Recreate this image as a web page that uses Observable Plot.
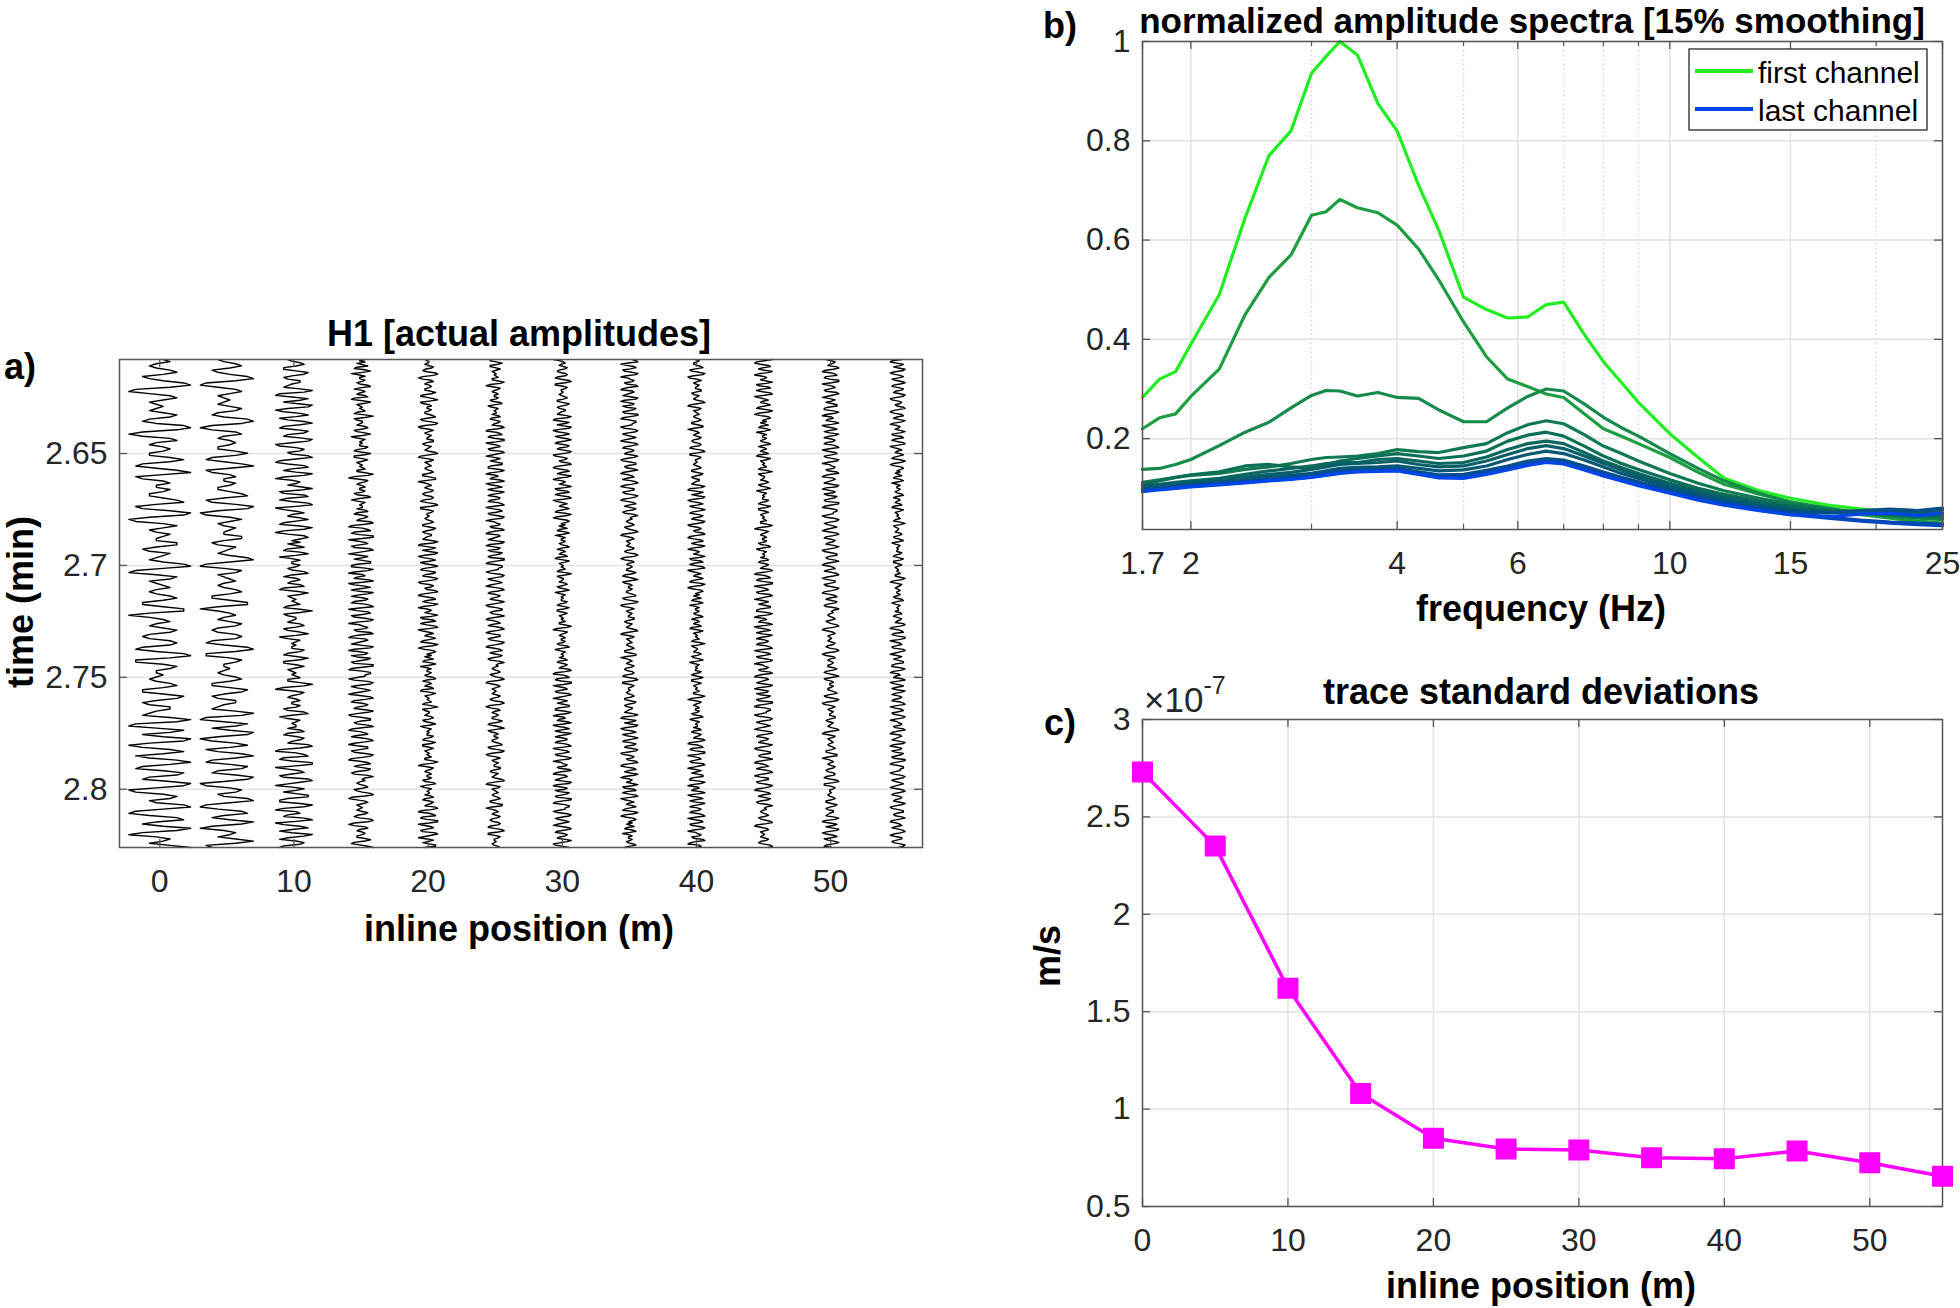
<!DOCTYPE html>
<html><head><meta charset="utf-8">
<script src="https://cdn.jsdelivr.net/npm/d3@7"></script>
<script src="https://cdn.jsdelivr.net/npm/@observablehq/plot@0.6"></script>
<style>
body{margin:0;background:#fff;}
#root{position:relative;width:1960px;height:1308px;overflow:hidden;background:#fff;font-family:"Liberation Sans",Arial,Helvetica,sans-serif;}
.panel{position:absolute;}
#overlay{position:absolute;left:0;top:0;}
</style></head><body><div id="root"></div>
<script>
// ---------------- data ----------------
const inlinePositions = [0, 5, 10, 15, 20, 25, 30, 35, 40, 45, 50, 55];
const traceStd = [2.73e-7, 2.35e-7, 1.62e-7, 1.08e-7, 0.85e-7, 0.795e-7, 0.79e-7, 0.75e-7, 0.745e-7, 0.785e-7, 0.725e-7, 0.655e-7];

// hand-read wiggle samples (digit 0..9 -> -1..1)
const wiggleA = "56434675235896103675345435763248972026743565336862147951256446533578412698301575346544774236543589510476345643467522588303564357632367621489611576445434675225874236643";
const wiggleB = "2697104862598302685137962158732698401576348951037842597204653696127831489502574368521697203786";
const wiggleC = "4635732685146446534784256436721586345456326962355436752368513654544763258622575345456336972047643564465237841365455367325764";
const wiggleD = "3896105782149950367412896304752588311697205632795026841497315762168940378512698304576238941067531598204761387412995105886";
const wiggleE = "63027984136852048962157632697301588423795104673158962037741269851047842587312796";
const traceSampleCount = [230, 230, 300, 380, 400, 410, 420, 420, 420, 410, 400, 400];
const traceSampleStart = [0, 3, 150, 260, 20, 330, 120, 450, 60, 210, 380, 170];
const timeWindow = [2.608, 2.826];

const frequencies = [1.7, 1.8, 1.9, 2.0, 2.2, 2.4, 2.6, 2.8, 3.0, 3.15, 3.3, 3.5, 3.75, 4.0, 4.3, 4.6, 5.0, 5.4, 5.8, 6.2, 6.6, 7.0, 7.5, 8.0, 8.5, 9.0, 10, 11, 12, 13.5, 15, 17, 19, 21, 23, 25];
const ch01 = [0.283, 0.32, 0.335, 0.39, 0.49, 0.645, 0.77, 0.82, 0.936, 0.97, 1.0, 0.973, 0.875, 0.82, 0.71, 0.62, 0.485, 0.46, 0.443, 0.445, 0.47, 0.475, 0.41, 0.355, 0.313, 0.273, 0.21, 0.162, 0.12, 0.095, 0.08, 0.066, 0.058, 0.052, 0.048, 0.045];
const ch02 = [0.22, 0.242, 0.25, 0.285, 0.34, 0.45, 0.525, 0.57, 0.65, 0.657, 0.682, 0.665, 0.655, 0.63, 0.582, 0.52, 0.435, 0.365, 0.32, 0.305, 0.29, 0.283, 0.25, 0.22, 0.205, 0.19, 0.162, 0.132, 0.108, 0.088, 0.073, 0.058, 0.047, 0.04, 0.034, 0.03];
const ch03 = [0.138, 0.14, 0.148, 0.158, 0.186, 0.213, 0.233, 0.262, 0.287, 0.297, 0.296, 0.286, 0.293, 0.283, 0.281, 0.258, 0.234, 0.234, 0.262, 0.285, 0.3, 0.296, 0.27, 0.243, 0.222, 0.205, 0.17, 0.14, 0.115, 0.09, 0.072, 0.06, 0.05, 0.044, 0.04, 0.037];
const ch04 = [0.112, 0.117, 0.122, 0.126, 0.13, 0.138, 0.143, 0.15, 0.158, 0.162, 0.163, 0.165, 0.17, 0.178, 0.174, 0.172, 0.182, 0.19, 0.212, 0.228, 0.236, 0.23, 0.208, 0.185, 0.17, 0.155, 0.13, 0.11, 0.095, 0.08, 0.068, 0.058, 0.05, 0.045, 0.042, 0.04];
const ch05 = [0.108, 0.115, 0.122, 0.127, 0.133, 0.145, 0.148, 0.143, 0.14, 0.148, 0.155, 0.16, 0.165, 0.17, 0.165, 0.16, 0.165, 0.175, 0.195, 0.207, 0.213, 0.205, 0.185, 0.165, 0.15, 0.138, 0.117, 0.1, 0.088, 0.075, 0.064, 0.055, 0.05, 0.047, 0.045, 0.044];
const ch06 = [0.105, 0.108, 0.112, 0.115, 0.12, 0.128, 0.135, 0.14, 0.145, 0.15, 0.152, 0.152, 0.158, 0.16, 0.155, 0.15, 0.152, 0.163, 0.178, 0.19, 0.195, 0.19, 0.172, 0.155, 0.142, 0.13, 0.11, 0.095, 0.084, 0.072, 0.062, 0.054, 0.05, 0.048, 0.046, 0.045];
const ch07 = [0.103, 0.106, 0.109, 0.112, 0.117, 0.122, 0.128, 0.132, 0.138, 0.143, 0.148, 0.15, 0.152, 0.155, 0.148, 0.143, 0.145, 0.155, 0.168, 0.18, 0.186, 0.18, 0.165, 0.15, 0.137, 0.125, 0.107, 0.092, 0.08, 0.068, 0.058, 0.052, 0.05, 0.05, 0.05, 0.05];
const ch08 = [0.1, 0.103, 0.106, 0.109, 0.113, 0.118, 0.123, 0.126, 0.13, 0.135, 0.14, 0.142, 0.143, 0.145, 0.14, 0.135, 0.137, 0.145, 0.158, 0.168, 0.175, 0.17, 0.157, 0.143, 0.13, 0.12, 0.102, 0.088, 0.076, 0.064, 0.055, 0.052, 0.055, 0.056, 0.055, 0.056];
const ch09 = [0.097, 0.1, 0.103, 0.106, 0.11, 0.114, 0.118, 0.122, 0.127, 0.132, 0.135, 0.137, 0.138, 0.14, 0.133, 0.127, 0.128, 0.136, 0.145, 0.155, 0.16, 0.157, 0.145, 0.133, 0.122, 0.113, 0.097, 0.084, 0.073, 0.062, 0.053, 0.05, 0.055, 0.058, 0.055, 0.06];
const ch10 = [0.096, 0.099, 0.102, 0.105, 0.109, 0.113, 0.117, 0.12, 0.124, 0.128, 0.132, 0.135, 0.136, 0.137, 0.13, 0.124, 0.124, 0.132, 0.141, 0.15, 0.155, 0.152, 0.14, 0.128, 0.118, 0.109, 0.094, 0.08, 0.07, 0.058, 0.05, 0.042, 0.036, 0.032, 0.03, 0.028];
const ch11 = [0.095, 0.098, 0.101, 0.104, 0.108, 0.112, 0.116, 0.119, 0.123, 0.127, 0.131, 0.134, 0.135, 0.136, 0.129, 0.122, 0.122, 0.13, 0.139, 0.148, 0.153, 0.15, 0.138, 0.126, 0.116, 0.107, 0.092, 0.078, 0.068, 0.056, 0.047, 0.04, 0.034, 0.03, 0.027, 0.025];
const ch12 = [0.093, 0.097, 0.1, 0.103, 0.107, 0.111, 0.115, 0.118, 0.122, 0.126, 0.13, 0.133, 0.134, 0.135, 0.128, 0.121, 0.12, 0.128, 0.137, 0.146, 0.152, 0.149, 0.137, 0.125, 0.115, 0.105, 0.09, 0.076, 0.066, 0.055, 0.047, 0.043, 0.048, 0.05, 0.045, 0.05];
const channelNames = ["ch01","ch02","ch03","ch04","ch05","ch06","ch07","ch08","ch09","ch10","ch11","ch12"];
const channelColors = ["#20ee20","#1c9e40","#168a4a","#0f7a50","#0c7056","#0a675e","#085f68","#075874","#055086","#044a9e","#0347c0","#0046e8"];

const timeTicks = [2.65, 2.7, 2.75, 2.8];
const positionTicks = [0, 10, 20, 30, 40, 50];
const freqTicks = [1.7, 2, 4, 6, 10, 15, 25];
const freqMinor = [3, 5, 7, 8, 9, 20];
const ampTicks = [0.2, 0.4, 0.6, 0.8, 1];
const stdTicks = [0.5e-7, 1e-7, 1.5e-7, 2e-7, 2.5e-7, 3e-7];

// ---------------- build ----------------
const FONT = '"Liberation Sans", Arial, Helvetica, sans-serif';
const AX = "#262626", FRAME = "#555555", GRID = "#e2e2e2";
const root = document.getElementById("root");
const baseStyle = {fontSize: "32px", fontFamily: FONT, color: AX, background: "transparent", overflow: "visible"};

function boxTicks(xt, yt, fw, fh, len) {
  return [
    Plot.ruleX(xt, {insetTop: fh - len, stroke: FRAME, strokeWidth: 1.3}),
    Plot.ruleX(xt, {insetBottom: fh - len, stroke: FRAME, strokeWidth: 1.3}),
    Plot.ruleY(yt, {insetRight: fw - len, stroke: FRAME, strokeWidth: 1.3}),
    Plot.ruleY(yt, {insetLeft: fw - len, stroke: FRAME, strokeWidth: 1.3})
  ];
}
function place(svg, left, top, w) {
  const d = document.createElement("div");
  d.className = "panel";
  d.style.left = left + "px"; d.style.top = top + "px"; d.style.width = w + "px";
  d.appendChild(svg); root.appendChild(d);
}

// panel a rows
const wiggle = wiggleA + wiggleB + wiggleC + wiggleD + wiggleE;
const gain = 2.3 / 2.73e-7;
const traceRows = [];
inlinePositions.forEach((pos, i) => {
  const n = traceSampleCount[i];
  for (let k = 0; k < n; k++) {
    const digit = +wiggle[(traceSampleStart[i] + k) % wiggle.length];
    traceRows.push({pos, t: timeWindow[0] + k * (timeWindow[1] - timeWindow[0]) / (n - 1), v: (digit - 4.5) / 4.5 * traceStd[i] * gain});
  }
});

const plotA = Plot.plot({
  width: 960, height: 620, marginLeft: 119, marginRight: 38, marginTop: 19, marginBottom: 113,
  style: baseStyle,
  x: {domain: [-3, 56.85], ticks: positionTicks, tickSize: 0, tickPadding: 22, label: null},
  y: {domain: timeWindow, reverse: true, ticks: timeTicks, tickFormat: d => String(d), tickSize: 0, tickPadding: 12, label: null},
  marks: [
    Plot.gridY(timeTicks, {stroke: GRID, strokeOpacity: 1, strokeWidth: 1.5}),
    Plot.line(traceRows, {x: d => d.pos + d.v, y: "t", z: "pos", stroke: "#000", strokeWidth: 1.4}),
    ...boxTicks(positionTicks, timeTicks, 803, 488, 8),
    Plot.frame({stroke: FRAME, strokeWidth: 1.5})
  ]
});
place(plotA, 0, 340, 960);

// panel b rows
const channels = [ch01, ch02, ch03, ch04, ch05, ch06, ch07, ch08, ch09, ch10, ch11, ch12];
const specRows = [];
channels.forEach((vals, i) => vals.forEach((a, j) => specRows.push({f: frequencies[j], a, ch: channelNames[i]})));

const plotB = Plot.plot({
  width: 920, height: 640, marginLeft: 102, marginRight: 18, marginTop: 41, marginBottom: 111,
  style: baseStyle,
  x: {type: "log", domain: [1.7, 25], ticks: freqTicks, tickFormat: d => String(d), tickSize: 0, tickPadding: 22, label: null},
  y: {domain: [0.017, 1], ticks: ampTicks, tickFormat: d => String(d), tickSize: 0, tickPadding: 12, label: null},
  color: {domain: channelNames, range: channelColors},
  marks: [
    Plot.ruleX(freqMinor, {stroke: "#cfcfcf", strokeWidth: 1.2, strokeDasharray: "1.5,3"}),
    Plot.gridX(freqTicks, {stroke: GRID, strokeOpacity: 1, strokeWidth: 1.5}),
    Plot.gridY(ampTicks, {stroke: GRID, strokeOpacity: 1, strokeWidth: 1.5}),
    Plot.line(specRows, {x: "f", y: "a", z: "ch", stroke: "ch", strokeWidth: 3.2}),
    ...boxTicks(freqTicks, ampTicks, 800, 488, 8),
    Plot.ruleX(freqMinor, {insetTop: 483, stroke: FRAME, strokeWidth: 1.2}),
    Plot.ruleX(freqMinor, {insetBottom: 483, stroke: FRAME, strokeWidth: 1.2}),
    Plot.frame({stroke: FRAME, strokeWidth: 1.5})
  ]
});
place(plotB, 1040, 0, 920);

// panel c rows
const stdRows = inlinePositions.map((pos, i) => ({pos, s: traceStd[i]}));
const plotC = Plot.plot({
  width: 920, height: 648, marginLeft: 102, marginRight: 18, marginTop: 59, marginBottom: 102,
  style: baseStyle,
  x: {domain: [0, 55], ticks: positionTicks, tickSize: 0, tickPadding: 22, label: null},
  y: {domain: [0.5e-7, 3e-7], ticks: stdTicks, tickFormat: d => String(+(d * 1e7).toFixed(1)), tickSize: 0, tickPadding: 12, label: null},
  marks: [
    Plot.gridX(positionTicks, {stroke: GRID, strokeOpacity: 1, strokeWidth: 1.5}),
    Plot.gridY(stdTicks, {stroke: GRID, strokeOpacity: 1, strokeWidth: 1.5}),
    ...boxTicks(positionTicks, stdTicks, 800, 487, 8),
    Plot.frame({stroke: FRAME, strokeWidth: 1.5}),
    Plot.line(stdRows, {x: "pos", y: "s", stroke: "#ff00ff", strokeWidth: 3.5}),
    Plot.dot(stdRows, {x: "pos", y: "s", symbol: "square", r: 11, fill: "#ff00ff", stroke: "#ff00ff", strokeWidth: 1.5, strokeLinejoin: "round"})
  ]
});
place(plotC, 1040, 660, 920);

// ---------------- overlay text ----------------
const NS = "http://www.w3.org/2000/svg";
const ov = document.createElementNS(NS, "svg");
ov.setAttribute("id", "overlay");
ov.setAttribute("width", 1960); ov.setAttribute("height", 1308);
ov.setAttribute("font-family", FONT);
root.appendChild(ov);
function txt(s, x, y, o = {}) {
  const t = document.createElementNS(NS, "text");
  t.setAttribute("x", x); t.setAttribute("y", y);
  t.setAttribute("font-size", o.size || 36);
  t.setAttribute("font-weight", o.weight || "bold");
  t.setAttribute("fill", o.fill || "#000");
  t.setAttribute("text-anchor", o.anchor || "middle");
  t.setAttribute("dominant-baseline", o.baseline || "central");
  if (o.rotate) t.setAttribute("transform", `rotate(-90 ${x} ${y})`);
  t.textContent = s;
  ov.appendChild(t);
  return t;
}
// panel a
txt("a)", 4, 366, {anchor: "start"});
txt("H1 [actual amplitudes]", 519, 333);
txt("time (min)", 20, 602, {rotate: true});
txt("inline position (m)", 519, 928);
// panel b
txt("b)", 1060, 25);
txt("normalized amplitude spectra [15% smoothing]", 1532, 20, {size: 35});
txt("frequency (Hz)", 1541, 608);
// legend
const lg = document.createElementNS(NS, "rect");
lg.setAttribute("x", 1689); lg.setAttribute("y", 49); lg.setAttribute("width", 238); lg.setAttribute("height", 81);
lg.setAttribute("fill", "#fff"); lg.setAttribute("stroke", AX); lg.setAttribute("stroke-width", 1.3);
ov.appendChild(lg);
[[channelColors[0], "first channel", 71], [channelColors[11], "last channel", 109]].forEach(([c, s, y]) => {
  const l = document.createElementNS(NS, "line");
  l.setAttribute("x1", 1695); l.setAttribute("x2", 1753); l.setAttribute("y1", y); l.setAttribute("y2", y);
  l.setAttribute("stroke", c); l.setAttribute("stroke-width", 4);
  ov.appendChild(l);
  txt(s, 1758, y + 1, {anchor: "start", weight: "normal", size: 30});
});
// panel c
txt("c)", 1060, 722);
txt("trace standard deviations", 1541, 691);
const ex = txt("\u00d710", 1144, 712, {anchor: "start", weight: "normal", size: 35, baseline: "alphabetic", fill: AX});
const sup = document.createElementNS(NS, "tspan");
sup.setAttribute("font-size", 25); sup.setAttribute("dy", -18);
sup.textContent = "-7";
ex.appendChild(sup);
txt("m/s", 1047, 956, {rotate: true});
txt("inline position (m)", 1541, 1285);
</script></body></html>
